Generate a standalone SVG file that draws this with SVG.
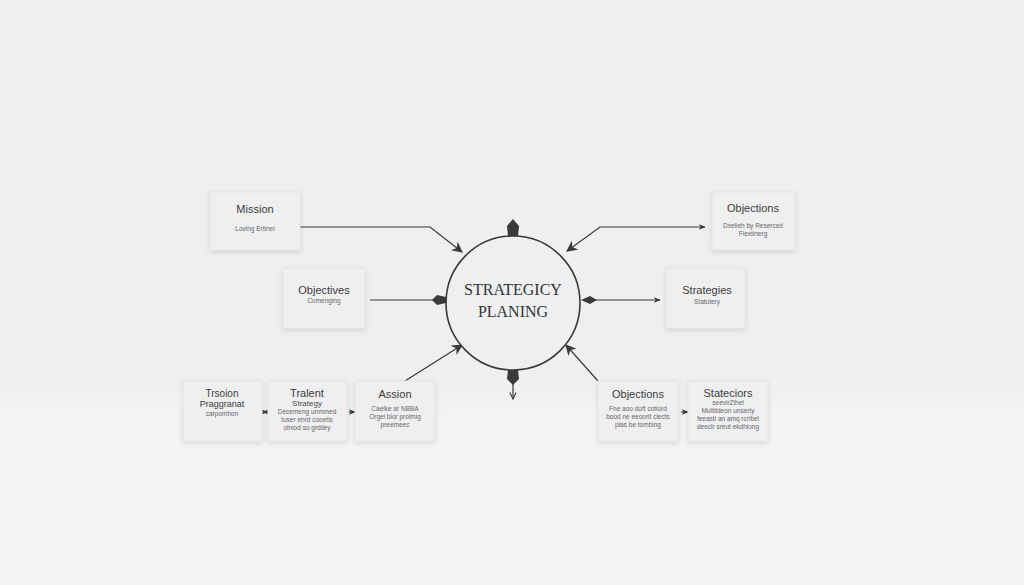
<svg xmlns="http://www.w3.org/2000/svg" width="1024" height="585" viewBox="0 0 1024 585">
<defs>
<linearGradient id="bg" x1="0" y1="0" x2="0" y2="1">
<stop offset="0" stop-color="#eeeff0"/>
<stop offset="0.64" stop-color="#eeeff0"/>
<stop offset="0.72" stop-color="#f4f4f5"/>
<stop offset="1" stop-color="#f3f3f4"/>
</linearGradient>
<filter id="sh" x="-20%" y="-20%" width="140%" height="150%">
<feDropShadow dx="0" dy="2" stdDeviation="2.5" flood-color="#000" flood-opacity="0.12"/>
</filter>
<marker id="ah" viewBox="0 0 10 10" refX="9" refY="5" markerWidth="7" markerHeight="7" orient="auto-start-reverse" markerUnits="userSpaceOnUse">
<path d="M0,1 L10,5 L0,9 L3,5 Z" fill="#3a3a3c"/>
</marker>
<marker id="ahb" viewBox="0 0 10 10" refX="9" refY="5" markerWidth="11" markerHeight="11" orient="auto" markerUnits="userSpaceOnUse">
<path d="M0,0 L10,5 L0,10 L3,5 Z" fill="#3a3a3c"/>
</marker>
<marker id="open" viewBox="0 0 10 10" refX="9" refY="5" markerWidth="8" markerHeight="8" orient="auto" markerUnits="userSpaceOnUse">
<path d="M1,1 L9,5 L1,9" fill="none" stroke="#3a3a3c" stroke-width="1.4"/>
</marker>
<style>
.card{fill:#efeff0;stroke:#e4e4e6;stroke-width:1;filter:url(#sh)}
.t{font-family:"Liberation Sans",Arial,sans-serif;fill:#3c3c3e;text-anchor:middle}
.h{font-size:11px}
.m{font-size:8px;fill:#4a4a4c}
.s{font-size:6.5px;fill:#666668}
.ln{stroke:#3a3a3c;stroke-width:1.2;fill:none}
.tip{fill:#3a3a3c}
</style>
</defs>
<rect width="1024" height="585" fill="url(#bg)"/>

<g id="connectors">
<path class="ln" d="M300,227 L430,227 L462,252" marker-end="url(#ahb)"/>
<path class="ln" d="M370,300 L436,300"/>
<path class="tip" d="M432,300 L437,295 L446,297 L446,303 L437,305 Z"/>
<path class="ln" d="M405,381 L462,345" marker-end="url(#ahb)"/>
<path class="tip" d="M513,219 L519,226 L518,236 L508,236 L507,226 Z"/>
<path class="ln" d="M705,227 L600,227 L567,251" marker-end="url(#ahb)" marker-start="url(#ah)"/>
<path class="tip" d="M581,300 L590,296 L597,300 L590,304 Z"/>
<path class="ln" d="M594,300 L660,300" marker-end="url(#ah)"/>
<path class="ln" d="M598,381 L566,345" marker-end="url(#ahb)"/>
<path class="tip" d="M508,370 L518,370 L519,379 L513,385 L507,379 Z"/>
<path class="ln" d="M513,382 L513,399" marker-end="url(#open)"/>
<path class="ln" d="M263,412 L267,412" marker-end="url(#ah)" marker-start="url(#ah)"/>
<path class="ln" d="M349,412 L355,412" marker-end="url(#ah)"/>
<path class="ln" d="M681,412 L688,412" marker-end="url(#ah)"/>
</g>

<g id="center">
<circle cx="513" cy="303" r="67" fill="#eeeff0" stroke="#3a3a3c" stroke-width="1.6"/>
<text class="t" x="513" y="295" style="font-family:'Liberation Serif','Times New Roman',serif;font-size:16px;fill:#333">STRATEGICY</text>
<text class="t" x="513" y="317" style="font-family:'Liberation Serif','Times New Roman',serif;font-size:16px;fill:#333">PLANING</text>
</g>

<g id="mission">
<rect class="card" x="210" y="192" width="90" height="58"/>
<text class="t h" x="255" y="213">Mission</text>
<text class="t s" x="255" y="231">Loving Ertinel</text>
</g>

<g id="objectives">
<rect class="card" x="283" y="268" width="82" height="60"/>
<text class="t h" x="324" y="294">Objectives</text>
<text class="t s" x="324" y="303">Comenging</text>
</g>

<g id="objections-top">
<rect class="card" x="712" y="192" width="83" height="58"/>
<text class="t h" x="753" y="212">Objections</text>
<text class="t s" x="753" y="228">Dxelieh by Reserced</text>
<text class="t s" x="753" y="236">Fiextinerg</text>
</g>

<g id="strategies">
<rect class="card" x="666" y="268" width="79" height="60"/>
<text class="t h" x="707" y="294">Strategies</text>
<text class="t s" x="707" y="304">Statutery</text>
</g>

<g id="trsoion">
<rect class="card" x="183" y="381" width="79" height="60"/>
<text class="t" x="222" y="397" style="font-size:10px">Trsoion</text>
<text class="t" x="222" y="407" style="font-size:9px">Praggranat</text>
<text class="t s" x="222" y="416">carpomhon</text>
</g>

<g id="tralent">
<rect class="card" x="268" y="381" width="79" height="60"/>
<text class="t h" x="307" y="397">Tralent</text>
<text class="t m" x="307" y="406">Strategy</text>
<text class="t s" x="307" y="414">Decemeng unmmed</text>
<text class="t s" x="307" y="422">tuser enrd cooetis</text>
<text class="t s" x="307" y="430">olniod so grdiley</text>
</g>

<g id="assion">
<rect class="card" x="355" y="381" width="80" height="60"/>
<text class="t h" x="395" y="398">Assion</text>
<text class="t s" x="395" y="411">Caelke ar NBBA</text>
<text class="t s" x="395" y="419">Orgel blor prolmig</text>
<text class="t s" x="395" y="427">preemeec</text>
</g>

<g id="objections-bottom">
<rect class="card" x="598" y="381" width="80" height="60"/>
<text class="t h" x="638" y="398">Objections</text>
<text class="t s" x="638" y="411">Fne aoo doft cotiord</text>
<text class="t s" x="638" y="419">bood ne eeoorit ciects</text>
<text class="t s" x="638" y="427">plas be tombing</text>
</g>

<g id="stateciors">
<rect class="card" x="688" y="381" width="80" height="60"/>
<text class="t h" x="728" y="397">Stateciors</text>
<text class="t s" x="728" y="405">seevirZlhel</text>
<text class="t s" x="728" y="413">Multitdeon unserty</text>
<text class="t s" x="728" y="421">feeasti an amq rcribel</text>
<text class="t s" x="728" y="429">deeclr sreut ekdhlong</text>
</g>
</svg>
